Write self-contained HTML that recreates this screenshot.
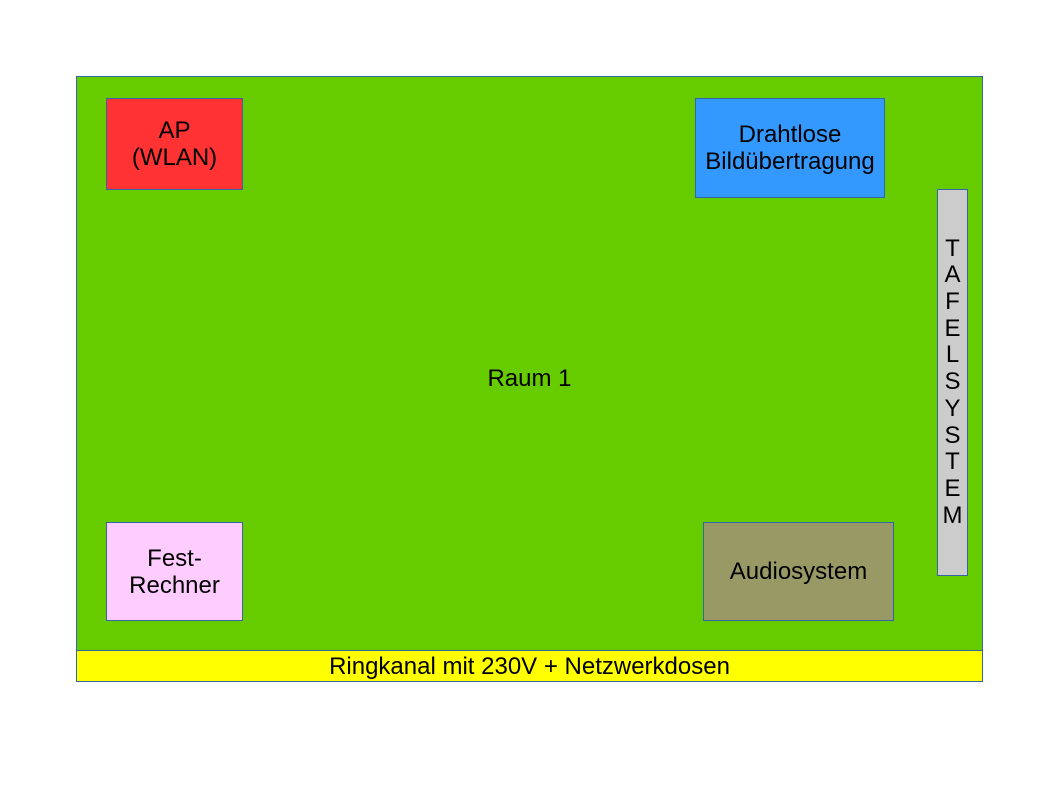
<!DOCTYPE html>
<html>
<head>
<meta charset="utf-8">
<style>
  html, body { margin:0; padding:0; background:#ffffff; }
  body { width:1058px; height:794px; position:relative; overflow:hidden;
         font-family:"Liberation Sans", Arial, sans-serif; font-size:24px; color:#000; }
  .b { position:absolute; box-sizing:border-box; border:1px solid #3465a4;
       display:flex; align-items:center; justify-content:center; text-align:center;
       line-height:27px; }
  .t { position:absolute; left:76px; top:76px; width:907px; height:606px;
       display:flex; align-items:center; justify-content:center; }
</style>
</head>
<body>
  <div class="b" style="left:76px;top:76px;width:907px;height:575px;background:#66cc00;"></div>
  <div class="b" style="left:76px;top:650px;width:907px;height:32px;background:#ffff00;">Ringkanal mit 230V + Netzwerkdosen</div>
  <div class="t">Raum 1</div>
  <div class="b" style="left:106px;top:98px;width:137px;height:92px;background:#ff3333;">AP<br>(WLAN)</div>
  <div class="b" style="left:695px;top:98px;width:190px;height:100px;background:#3399ff;">Drahtlose<br>Bildübertragung</div>
  <div class="b" style="left:937px;top:189px;width:31px;height:387px;background:#cccccc;line-height:26.7px;">T<br>A<br>F<br>E<br>L<br>S<br>Y<br>S<br>T<br>E<br>M</div>
  <div class="b" style="left:703px;top:522px;width:191px;height:99px;background:#999966;">Audiosystem</div>
  <div class="b" style="left:106px;top:522px;width:137px;height:99px;background:#ffccff;">Fest-<br>Rechner</div>
</body>
</html>
